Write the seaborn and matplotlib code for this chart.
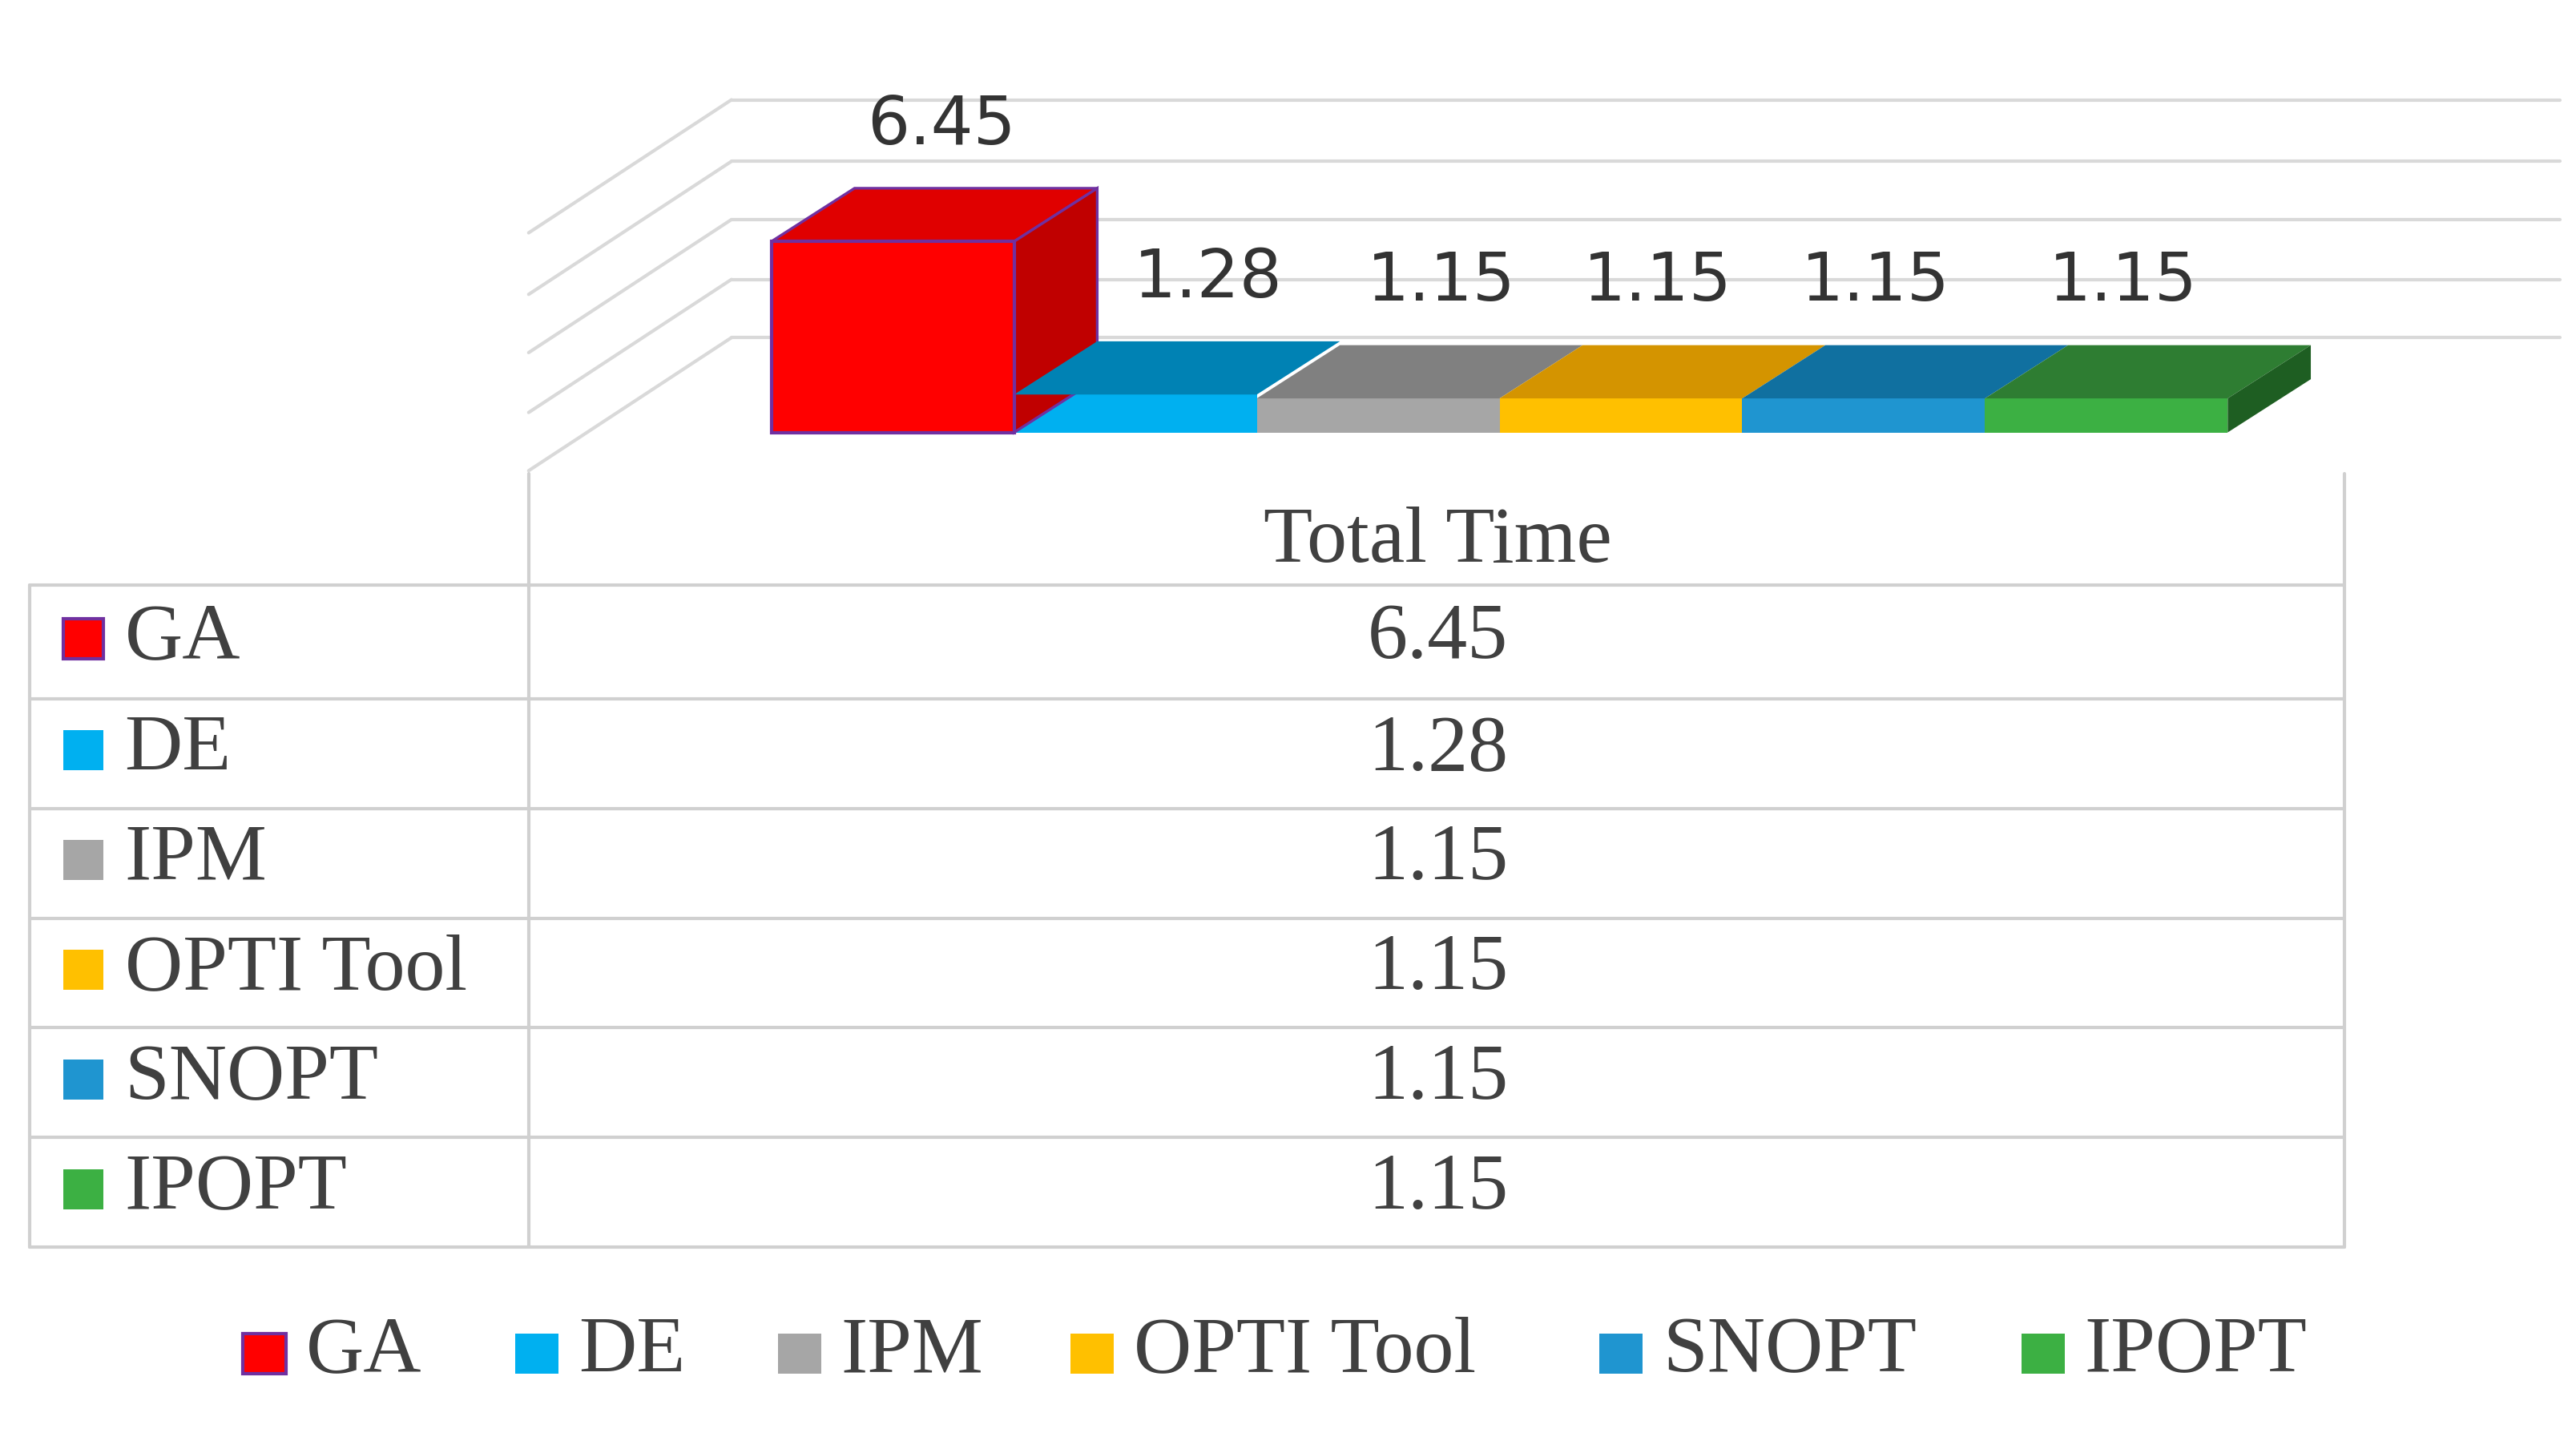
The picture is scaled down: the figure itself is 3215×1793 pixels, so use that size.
import matplotlib
matplotlib.use("Agg")
import matplotlib.pyplot as plt
import seaborn as sns
import pandas as pd
from matplotlib.patches import Polygon, Rectangle

methods = ["GA", "DE", "IPM", "OPTI Tool", "SNOPT", "IPOPT"]
total_time = [6.45, 1.28, 1.15, 1.15, 1.15, 1.15]
front_colors = ["#ff0000", "#00b0f0", "#a6a6a6", "#ffc000", "#1f95d0", "#3cb043"]
top_colors = ["#e00000", "#0082b4", "#808080", "#d49400", "#1070a0", "#2e7d32"]
side_colors = ["#c00000", "#0070a0", "#707070", "#b07800", "#0b5a85", "#1e5e22"]
column_title = "Total Time"

sns.set_theme(style="white")
plt.rcParams["font.family"] = ["DejaVu Sans"]
W, H = 1550, 864
fig = plt.figure(figsize=(16.08, 8.965), dpi=200)

ov = fig.add_axes([0, 0, 1, 1])
ov.set_xlim(0, W); ov.set_ylim(H, 0); ov.axis("off")
grid_c = "#d9d9d9"
for y in [203, 168, 132, 97, 60]:
    ov.plot([318, 440], [y + 80, y], color=grid_c, lw=1.5)
    ov.plot([440, 1540], [y, y], color=grid_c, lw=1.5)

scale = 17.8
ax = fig.add_axes([464 / W, 1 - 260 / H, 876 / W, 200 / H])
df = pd.DataFrame({"method": methods, "time": total_time})
sns.barplot(data=df, x="method", y="time", hue="method", palette=front_colors,
            order=methods, hue_order=methods, width=1.0, dodge=False, legend=False,
            ax=ax, saturation=1, linewidth=0)
ax.set_xlim(-0.5, 5.5); ax.set_ylim(0, 200 / scale)
ax.axis("off")
dx, dy = 50 / 146, 32 / scale
for i, v in enumerate(total_time):
    x0, x1 = i - 0.5, i + 0.5
    ax.add_patch(Polygon([(x0, v), (x1, v), (x1 + dx, v + dy), (x0 + dx, v + dy)],
                         closed=True, fc=top_colors[i], ec="#7030a0" if i == 0 else "none",
                         lw=1.2, clip_on=False, zorder=3))
    if i == 0 or i == len(total_time) - 1:
        ax.add_patch(Polygon([(x1, 0), (x1 + dx, dy), (x1 + dx, v + dy), (x1, v)],
                             closed=True, fc=side_colors[i], ec="#7030a0" if i == 0 else "none",
                             lw=1.2, clip_on=False, zorder=3))
    if i == 0:
        ax.add_patch(Rectangle((x0, 0), 1, v, fc="none", ec="#7030a0", lw=1.5,
                               zorder=4, clip_on=False))
label_x = [0.2, 1.3, 2.26, 3.15, 4.05, 5.07]
for i, v in enumerate(total_time):
    ax.annotate(f"{v:.2f}", (label_x[i], v + dy), xytext=(0, 38 * 2.075 * 72 / 200),
                textcoords="offset points", ha="center", va="center",
                fontsize=30, color="#333333", annotation_clip=False)

serif = ["Liberation Serif", "DejaVu Serif"]
fs = 36
tc = "#d0d0d0"
ov.plot([318, 318], [285, 750], color=tc, lw=1.5)
ov.plot([1410, 1410], [285, 750], color=tc, lw=1.5)
ov.plot([18, 18], [352, 750], color=tc, lw=1.5)
rows = [352, 420, 486, 552, 618, 684, 750]
for y in rows:
    ov.plot([18, 1410], [y, y], color=tc, lw=1.5)
ov.text(865, 326, column_title, ha="center", va="center", fontsize=fs,
        family=serif, color="#404040")
for i, m in enumerate(methods):
    yc = (rows[i] + rows[i + 1]) / 2
    ov.add_patch(Rectangle((38, yc - 14), 24, 24, fc=front_colors[i],
                           ec="#7030a0" if i == 0 else "none", lw=1.5))
    ov.text(75, yc - 2, m, ha="left", va="center", fontsize=fs, family=serif, color="#404040")
    ov.text(865, yc - 2, f"{total_time[i]:.2f}", ha="center", va="center", fontsize=fs,
            family=serif, color="#404040")

leg_sq = [146, 310, 468, 644, 962, 1216]
for i, m in enumerate(methods):
    ov.add_patch(Rectangle((leg_sq[i], 802), 26, 24, fc=front_colors[i],
                           ec="#7030a0" if i == 0 else "none", lw=1.5))
    ov.text(leg_sq[i] + 38, 813, m, ha="left", va="center", fontsize=fs,
            family=serif, color="#404040")

fig.savefig("out.png", dpi=200)
